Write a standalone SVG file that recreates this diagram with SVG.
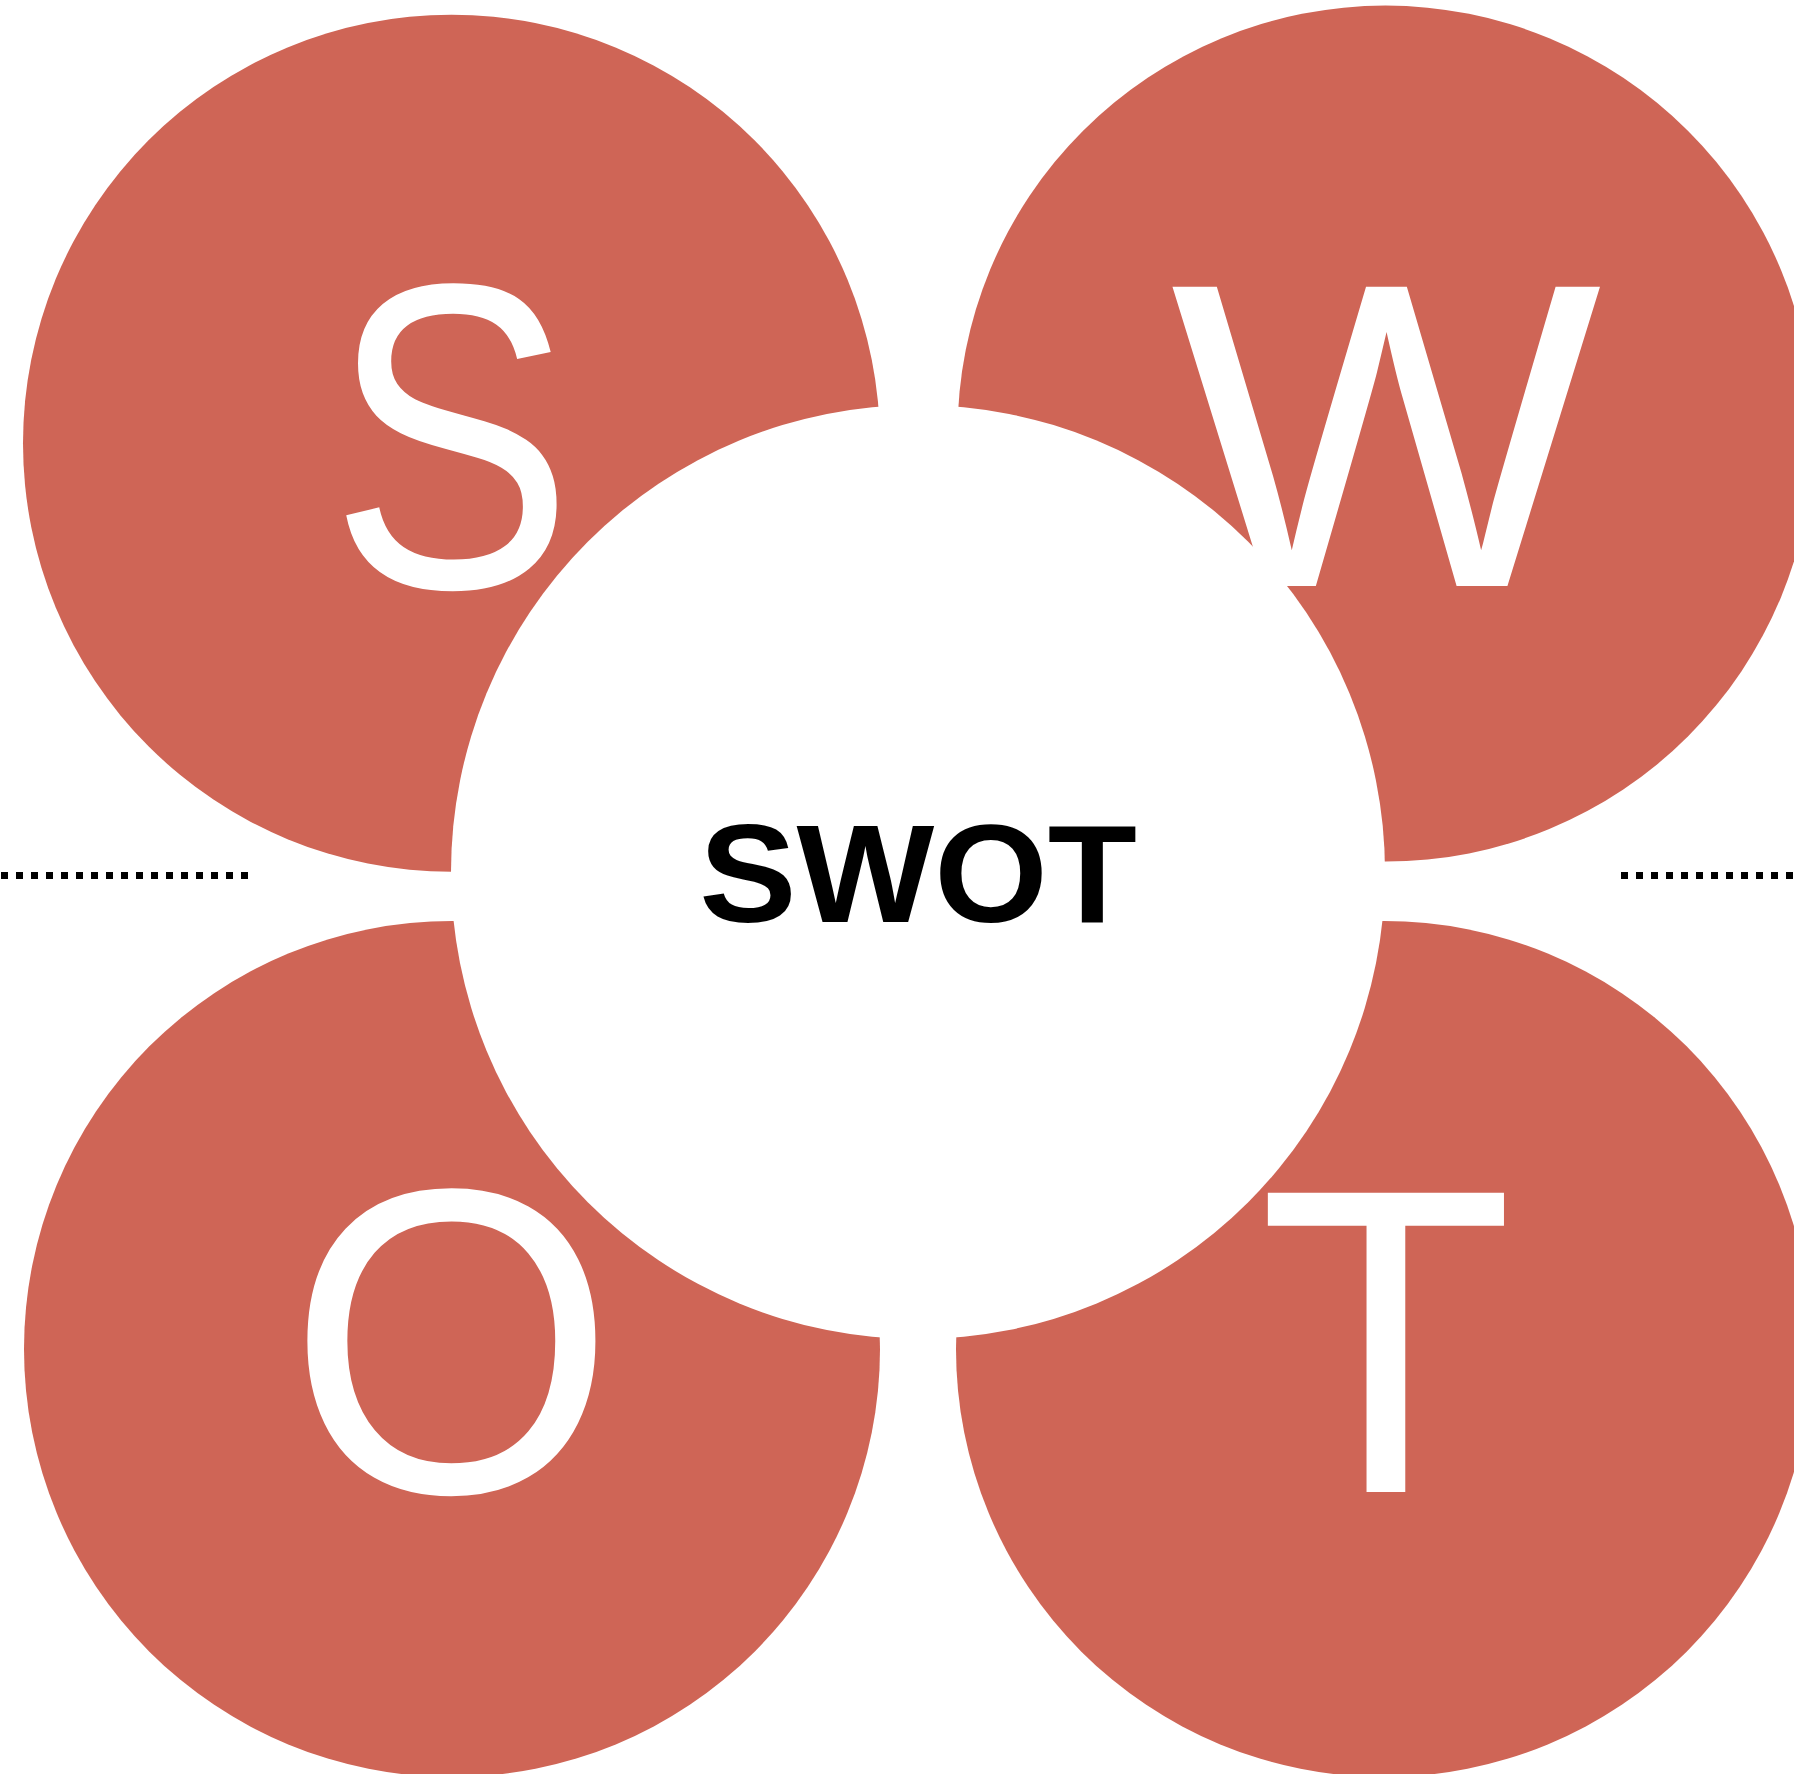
<svg xmlns="http://www.w3.org/2000/svg" width="1794" height="1774" viewBox="0 0 1794 1774">
<style>
.quad{fill:#CF6556}
.big{fill:#FFFFFF;font-family:"Liberation Sans",Arial,sans-serif;font-size:435px;text-anchor:middle}
.title{fill:#000000;font-family:"Liberation Sans",Arial,sans-serif;font-weight:bold;font-size:139px;text-anchor:middle}
.dots{stroke:#000000;stroke-width:7;stroke-dasharray:7 8;fill:none}
</style>
<rect width="1794" height="1774" fill="#FFFFFF"/>
<g id="node-S">
<circle class="quad" cx="451.5" cy="443.3" r="428.5"/>
</g>
<g id="node-W">
<circle class="quad" cx="1385.5" cy="433.6" r="428"/>
</g>
<g id="node-O">
<circle class="quad" cx="452" cy="1349" r="428"/>
</g>
<g id="node-T">
<circle class="quad" cx="1384" cy="1349" r="428"/>
</g>
<g id="node-center">
<circle cx="918" cy="872" r="467" fill="#FFFFFF"/>
</g>
<g id="labels">
<text class="big" transform="translate(451.5,587) scale(0.84,1)">S</text>
<text class="big" transform="translate(1386,586) scale(1.05,1)">W</text>
<text class="big" transform="translate(451.5,1492) scale(0.97,1)">O</text>
<text class="big" transform="translate(1386,1492) scale(0.96,1)">T</text>
<text class="title" transform="translate(918,922) scale(1.05,1)">SWOT</text>
</g>
<g id="connectors">
<line class="dots" x1="1" y1="875.5" x2="250" y2="875.5"/>
<line class="dots" x1="1621" y1="875.5" x2="1794" y2="875.5"/>
</g>
</svg>
